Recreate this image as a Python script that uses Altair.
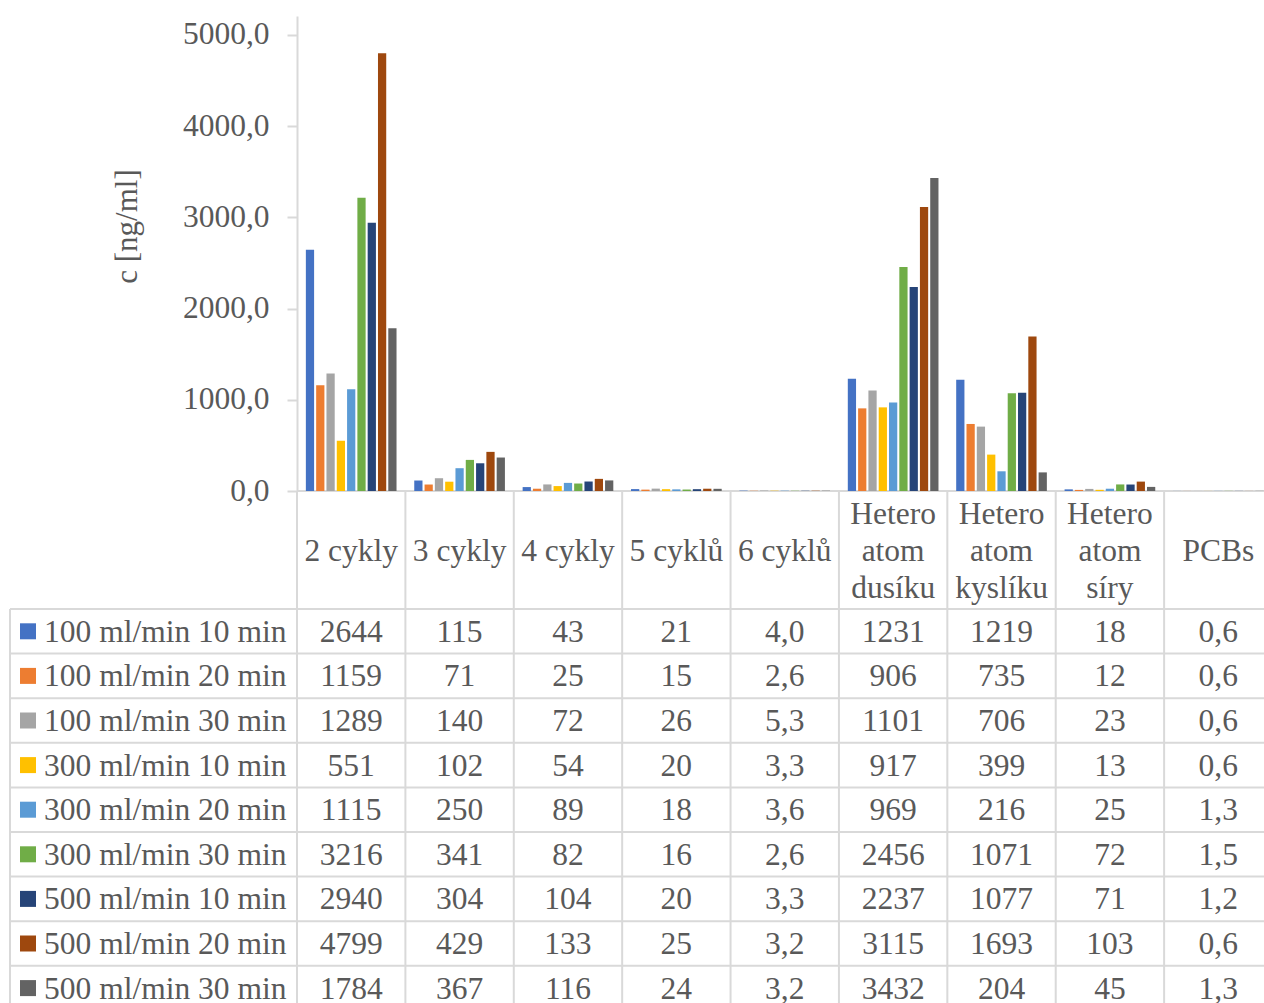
import altair as alt
import pandas as pd

# Categories (columns of the data table) and how many decimals each column shows
categories = ["2 cykly", "3 cykly", "4 cykly", "5 cyklů", "6 cyklů",
              "Hetero atom dusíku", "Hetero atom kyslíku", "Hetero atom síry", "PCBs"]
decimals = [0, 0, 0, 0, 1, 0, 0, 0, 1]

# Sampling settings (series / table rows)
series = ["100 ml/min 10 min", "100 ml/min 20 min", "100 ml/min 30 min",
          "300 ml/min 10 min", "300 ml/min 20 min", "300 ml/min 30 min",
          "500 ml/min 10 min", "500 ml/min 20 min", "500 ml/min 30 min"]
colors = ["#4472C4", "#ED7D31", "#A5A5A5", "#FFC000", "#5B9BD5",
          "#70AD47", "#264478", "#9E480E", "#636363"]

# Concentrations c [ng/ml]
s100_10 = [2644, 115, 43, 21, 4.0, 1231, 1219, 18, 0.6]
s100_20 = [1159, 71, 25, 15, 2.6, 906, 735, 12, 0.6]
s100_30 = [1289, 140, 72, 26, 5.3, 1101, 706, 23, 0.6]
s300_10 = [551, 102, 54, 20, 3.3, 917, 399, 13, 0.6]
s300_20 = [1115, 250, 89, 18, 3.6, 969, 216, 25, 1.3]
s300_30 = [3216, 341, 82, 16, 2.6, 2456, 1071, 72, 1.5]
s500_10 = [2940, 304, 104, 20, 3.3, 2237, 1077, 71, 1.2]
s500_20 = [4799, 429, 133, 25, 3.2, 3115, 1693, 103, 0.6]
s500_30 = [1784, 367, 116, 24, 3.2, 3432, 204, 45, 1.3]
values = [s100_10, s100_20, s100_30, s300_10, s300_20,
          s300_30, s500_10, s500_20, s500_30]

y_ticks = [0, 1000, 2000, 3000, 4000, 5000]

records = []
for i, (name, vals) in enumerate(zip(series, values)):
    for cat, d, v in zip(categories, decimals, vals):
        records.append({
            "series": name, "row": i + 0.5, "cat": cat, "value": v,
            "label": f"{v:.{d}f}".replace(".", ","),
        })
df = pd.DataFrame(records)
df_series = pd.DataFrame({"series": series, "row": [i + 0.5 for i in range(len(series))]})
# Column headers: the "Hetero atom ..." names wrap onto three lines
df_cats = pd.DataFrame({
    "cat": categories,
    "header": [c.replace(" ", "\n") if c.startswith("Hetero") else c for c in categories],
    "wrapped": [c.startswith("Hetero") for c in categories],
})
df_rowlines = pd.DataFrame({"i": list(range(len(series) + 1))})

FONT = "Liberation Serif"
TXT = "#595959"
LINE = "#D9D9D9"
FS = 31.5
TABLE_W = 975.5
HEADER_MID = 536
LINE_H = 37

x_scale = alt.Scale(domain=categories, range=[0, TABLE_W], paddingInner=0, paddingOuter=0)
y_bar = alt.Scale(domain=[0, 5208], range=[475, 0], nice=False, zero=True)
y_tab = alt.Scale(domain=[0, 9], range=[593, 994.4], nice=False, zero=False)
color_scale = alt.Scale(domain=series, range=colors)

bars = alt.Chart(df).mark_bar().encode(
    x=alt.X("cat:N", scale=x_scale, sort=categories, axis=None),
    xOffset=alt.XOffset("series:N", sort=series,
                        scale=alt.Scale(domain=series, paddingInner=0.2, paddingOuter=0.86)),
    y=alt.Y("value:Q", scale=y_bar,
            axis=alt.Axis(values=y_ticks, grid=False,
                          labelExpr="replace(format(datum.value, '.1f'), '.', ',')",
                          domainColor=LINE, domainWidth=2, tickColor=LINE, tickWidth=2,
                          tickSize=10, labelPadding=18, labelFont=FONT, labelFontSize=FS,
                          labelColor=TXT, title="c [ng/ml]", titleFont=FONT,
                          titleFontSize=31, titleColor=TXT, titleFontWeight="normal",
                          titleX=-170, titleY=210, titleAngle=270, titleAlign="center",
                          titleBaseline="middle")),
    color=alt.Color("series:N", scale=color_scale, legend=None),
)

# Table grid: zero line, row separators, column separators, left border
zero_line = alt.Chart(pd.DataFrame({"v": [0]})).mark_rule(color=LINE, strokeWidth=2).encode(
    y=alt.Y("v:Q", scale=y_bar, axis=None),
    x=alt.value(0), x2=alt.value(TABLE_W),
)
row_lines = alt.Chart(df_rowlines).mark_rule(color=LINE, strokeWidth=2).encode(
    y=alt.Y("i:Q", scale=y_tab, axis=None),
    x=alt.value(-287), x2=alt.value(TABLE_W),
)
col_lines = alt.Chart(df_cats).mark_rule(color=LINE, strokeWidth=2).encode(
    x=alt.X("cat:N", scale=x_scale, sort=categories, bandPosition=0, axis=None),
    y=alt.value(475), y2=alt.value(987),
)
left_border = alt.Chart(pd.DataFrame({"a": [0], "b": [9]})).mark_rule(color=LINE, strokeWidth=2).encode(
    x=alt.value(-287),
    y=alt.Y("a:Q", scale=y_tab, axis=None), y2="b:Q",
)

# Header row of the table with the category names (single-line and wrapped)
header_base = alt.Chart(df_cats).mark_text(
    font=FONT, fontSize=FS, color=TXT, baseline="middle", align="center",
    lineBreak="\n", lineHeight=LINE_H,
)
headers_single = header_base.transform_filter("!datum.wrapped").encode(
    x=alt.X("cat:N", scale=x_scale, sort=categories, axis=None),
    y=alt.value(HEADER_MID),
    text="header:N",
)
headers_wrapped = header_base.transform_filter("datum.wrapped").encode(
    x=alt.X("cat:N", scale=x_scale, sort=categories, axis=None),
    y=alt.value(HEADER_MID - LINE_H),
    text="header:N",
)

cells = alt.Chart(df).mark_text(font=FONT, fontSize=FS, color=TXT, baseline="middle",
                                align="center", dy=1.5).encode(
    x=alt.X("cat:N", scale=x_scale, sort=categories, axis=None),
    y=alt.Y("row:Q", scale=y_tab, axis=None),
    text="label:N",
)

row_names = alt.Chart(df_series).mark_text(font=FONT, fontSize=FS, color=TXT, baseline="middle",
                                           align="left", dy=1.5).encode(
    x=alt.value(-253),
    y=alt.Y("row:Q", scale=y_tab, axis=None),
    text="series:N",
)
row_keys = alt.Chart(df_series).mark_square(size=256, opacity=1, filled=True).encode(
    x=alt.value(-269),
    y=alt.Y("row:Q", scale=y_tab, axis=None),
    color=alt.Color("series:N", scale=color_scale, legend=None),
)

chart = alt.layer(
    zero_line, row_lines, col_lines, left_border, bars,
    headers_single, headers_wrapped, cells, row_names, row_keys
).resolve_scale(y="independent").properties(
    width=967, height=987,
    autosize=alt.AutoSizeParams(type="none"),
    padding={"left": 297, "top": 16, "right": 0, "bottom": 0},
    background="white",
).configure_view(stroke=None)

chart.save("out.html", embed_options={"renderer": "svg", "actions": False})
